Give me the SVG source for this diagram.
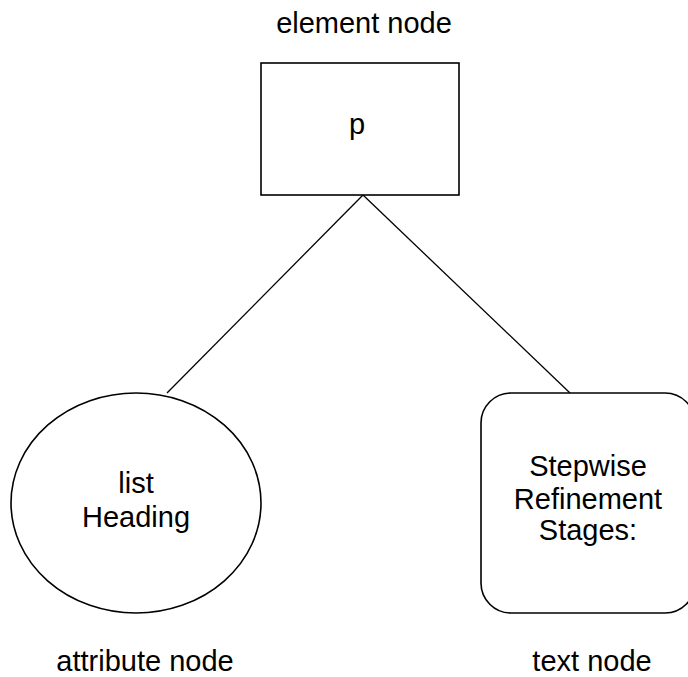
<svg xmlns="http://www.w3.org/2000/svg" width="688" height="677" viewBox="0 0 688 677">
<style>
  .shape { fill: #ffffff; stroke: #000000; stroke-width: 1.6; }
  .edge { stroke: #000000; stroke-width: 1.3; fill: none; }
  text { font-family: "Liberation Sans", Arial, sans-serif; font-size: 29px; fill: #000000; text-anchor: middle; }
</style>
<rect width="688" height="677" fill="#ffffff"/>
<g id="connectors">
  <line class="edge" x1="363" y1="195" x2="167" y2="393"/>
  <line class="edge" x1="363" y1="195" x2="570" y2="393"/>
</g>
<g id="element-node">
  <text x="364" y="33">element node</text>
  <rect class="shape" x="261" y="63" width="198" height="132"/>
  <text x="357" y="134">p</text>
</g>
<g id="attribute-node">
  <ellipse class="shape" cx="136" cy="503" rx="125" ry="110"/>
  <text x="136" y="493">list</text>
  <text x="136" y="527">Heading</text>
  <text x="145" y="671">attribute node</text>
</g>
<g id="text-node">
  <rect class="shape" x="481" y="393" width="214" height="220" rx="30" ry="30"/>
  <text x="588" y="476">Stepwise</text>
  <text x="588" y="509">Refinement</text>
  <text x="588" y="540">Stages:</text>
  <text x="592" y="671">text node</text>
</g>
</svg>
